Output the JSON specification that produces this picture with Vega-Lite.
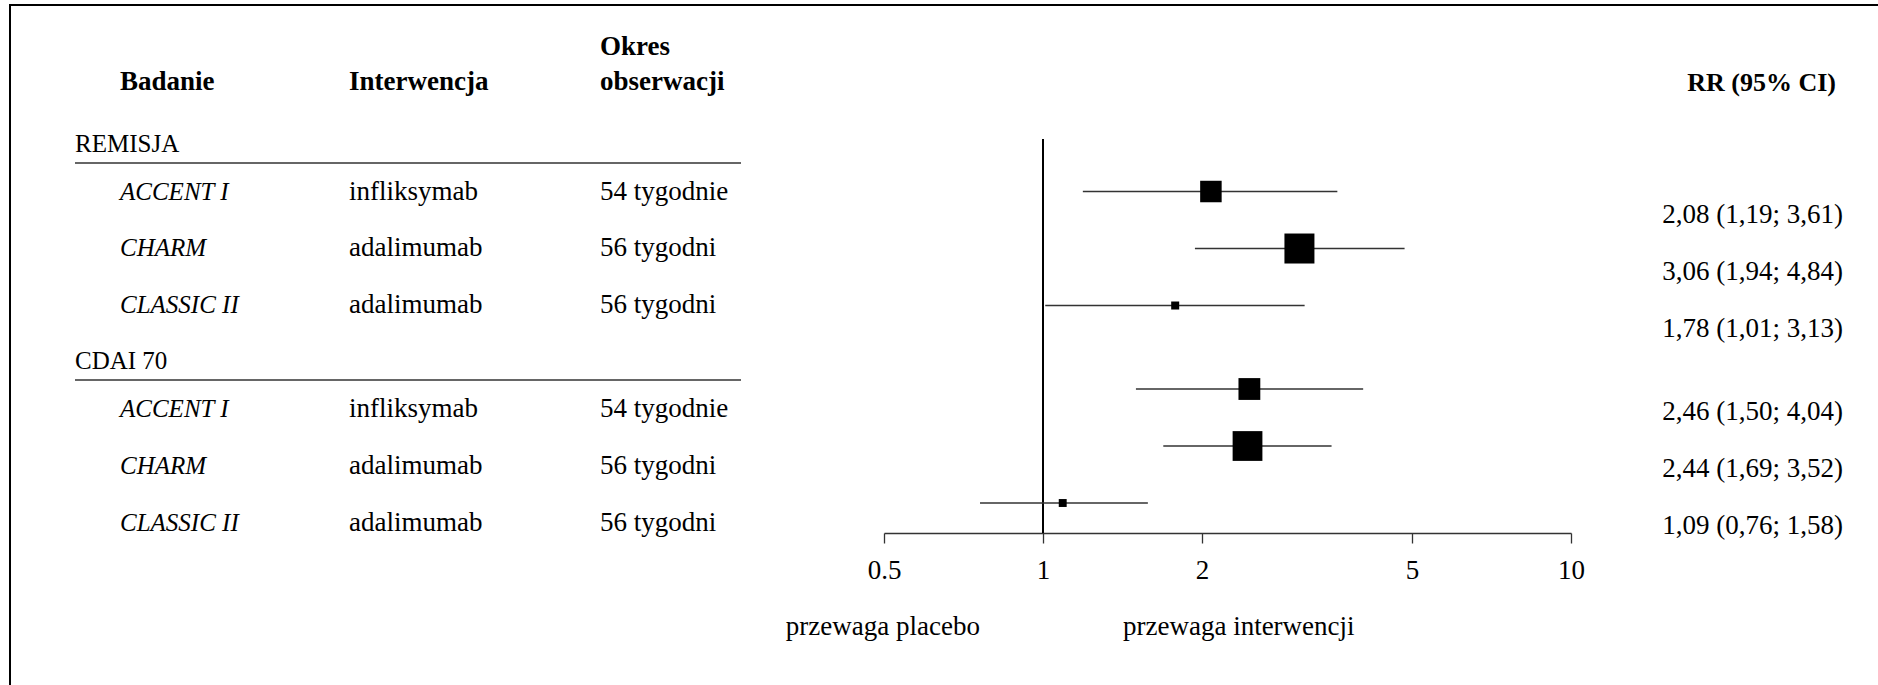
{
  "$schema": "https://vega.github.io/schema/vega-lite/v6.json",
  "padding": {"left": 9, "top": 4, "right": 0, "bottom": 0},
  "bounds": "flush",
  "spacing": 0,
  "config": {
    "view": {"stroke": null},
    "font": "Liberation Serif",
    "text": {"font": "Liberation Serif", "fontSize": 27, "color": "black"},
    "title": {"font": "Liberation Serif", "fontSize": 27, "fontWeight": "bold", "color": "black", "anchor": "start", "frame": "group", "baseline": "bottom", "offset": 43, "lineHeight": 35}
  },
  "datasets": {
    "badania": [
      {"grupa": "REMISJA", "badanie": "ACCENT I", "interwencja": "infliksymab", "okres": "54 tygodnie", "rr": 2.08, "lo": 1.19, "hi": 3.61, "waga": 32.4, "etykieta": "2,08 (1,19; 3,61)"},
      {"grupa": "REMISJA", "badanie": "CHARM", "interwencja": "adalimumab", "okres": "56 tygodni", "rr": 3.06, "lo": 1.94, "hi": 4.84, "waga": 63.1, "etykieta": "3,06 (1,94; 4,84)"},
      {"grupa": "REMISJA", "badanie": "CLASSIC II", "interwencja": "adalimumab", "okres": "56 tygodni", "rr": 1.78, "lo": 1.01, "hi": 3.13, "waga": 4.5, "etykieta": "1,78 (1,01; 3,13)"},
      {"grupa": "CDAI 70", "badanie": "ACCENT I", "interwencja": "infliksymab", "okres": "54 tygodnie", "rr": 2.46, "lo": 1.50, "hi": 4.04, "waga": 33.4, "etykieta": "2,46 (1,50; 4,04)"},
      {"grupa": "CDAI 70", "badanie": "CHARM", "interwencja": "adalimumab", "okres": "56 tygodni", "rr": 2.44, "lo": 1.69, "hi": 3.52, "waga": 62.2, "etykieta": "2,44 (1,69; 3,52)"},
      {"grupa": "CDAI 70", "badanie": "CLASSIC II", "interwencja": "adalimumab", "okres": "56 tygodni", "rr": 1.09, "lo": 0.76, "hi": 1.58, "waga": 4.4, "etykieta": "1,09 (0,76; 1,58)"}
    ]
  },
  "vconcat": [
    {"width": 1867, "height": 0.001, "data": {"values": []}, "mark": "point", "view": {"stroke": "black", "strokeWidth": 2}},
    {
      "hconcat": [
        {"width": 0.001, "height": 678, "data": {"values": []}, "mark": "point", "view": {"stroke": "black", "strokeWidth": 2}},
        {"width": 1867, "height": 1, "data": {"values": []}, "mark": "point"},
        {"width": 0.001, "height": 678, "data": {"values": []}, "mark": "point", "view": {"stroke": "#cccccc", "strokeWidth": 1}}
      ],
      "spacing": 0,
      "bounds": "flush"
    },
    {"width": 1, "height": 133, "data": {"values": []}, "mark": "point"},
    {
      "hconcat": [
        {"width": 65, "height": 1, "data": {"values": []}, "mark": "point"},
        {
          "width": 45, "height": 412,
          "data": {"name": "badania"},
          "transform": [{"aggregate": [{"op": "count", "as": "n"}], "groupby": ["grupa"]}],
          "layer": [
            {"mark": {"type": "rule", "color": "#333", "strokeWidth": 1.5},
             "encoding": {"y": {"field": "grupa", "type": "nominal", "bandPosition": 0, "axis": null,
               "scale": {"type": "band", "domain": ["REMISJA", "CDAI 70"], "paddingInner": 0.212, "paddingOuter": 0.0553, "align": 1}}}},
            {"mark": {"type": "text", "align": "left", "baseline": "bottom", "dy": -6, "fontSize": 25},
             "encoding": {"x": {"value": 0},
               "y": {"field": "grupa", "type": "nominal", "bandPosition": 0, "axis": null,
                 "scale": {"type": "band", "domain": ["REMISJA", "CDAI 70"], "paddingInner": 0.212, "paddingOuter": 0.0553, "align": 1}},
               "text": {"field": "grupa"}}}
          ]
        },
        {
          "width": 229, "height": 412,
          "title": {"text": "Badanie"},
          "data": {"name": "badania"},
          "layer": [
            {"transform": [{"aggregate": [{"op": "count", "as": "n"}], "groupby": ["grupa"]}],
             "mark": {"type": "rule", "color": "#333", "strokeWidth": 1.5},
             "encoding": {"y": {"field": "grupa", "type": "nominal", "bandPosition": 0, "axis": null,
               "scale": {"type": "band", "domain": ["REMISJA", "CDAI 70"], "paddingInner": 0.212, "paddingOuter": 0.0553, "align": 1}}}},
            {"mark": {"type": "text", "align": "left", "baseline": "middle", "fontStyle": "italic", "fontSize": 25},
             "encoding": {"x": {"value": 0},
               "y": {"field": "grupa", "type": "nominal", "axis": null,
                 "scale": {"type": "band", "domain": ["REMISJA", "CDAI 70"], "paddingInner": 0.212, "paddingOuter": 0.0553, "align": 1}},
               "yOffset": {"field": "badanie", "type": "nominal", "scale": {"type": "band", "domain": ["ACCENT I", "CHARM", "CLASSIC II"], "paddingInner": 0, "paddingOuter": 0}},
               "text": {"field": "badanie"}}}
          ]
        },
        {
          "width": 251, "height": 412,
          "title": {"text": "Interwencja"},
          "data": {"name": "badania"},
          "layer": [
            {"transform": [{"aggregate": [{"op": "count", "as": "n"}], "groupby": ["grupa"]}],
             "mark": {"type": "rule", "color": "#333", "strokeWidth": 1.5},
             "encoding": {"y": {"field": "grupa", "type": "nominal", "bandPosition": 0, "axis": null,
               "scale": {"type": "band", "domain": ["REMISJA", "CDAI 70"], "paddingInner": 0.212, "paddingOuter": 0.0553, "align": 1}}}},
            {"mark": {"type": "text", "align": "left", "baseline": "middle"},
             "encoding": {"x": {"value": 0},
               "y": {"field": "grupa", "type": "nominal", "axis": null,
                 "scale": {"type": "band", "domain": ["REMISJA", "CDAI 70"], "paddingInner": 0.212, "paddingOuter": 0.0553, "align": 1}},
               "yOffset": {"field": "badanie", "type": "nominal", "scale": {"type": "band", "domain": ["ACCENT I", "CHARM", "CLASSIC II"], "paddingInner": 0, "paddingOuter": 0}},
               "text": {"field": "interwencja"}}}
          ]
        },
        {
          "width": 141, "height": 412,
          "title": {"text": ["Okres", "obserwacji"]},
          "data": {"name": "badania"},
          "layer": [
            {"transform": [{"aggregate": [{"op": "count", "as": "n"}], "groupby": ["grupa"]}],
             "mark": {"type": "rule", "color": "#333", "strokeWidth": 1.5},
             "encoding": {"y": {"field": "grupa", "type": "nominal", "bandPosition": 0, "axis": null,
               "scale": {"type": "band", "domain": ["REMISJA", "CDAI 70"], "paddingInner": 0.212, "paddingOuter": 0.0553, "align": 1}}}},
            {"mark": {"type": "text", "align": "left", "baseline": "middle"},
             "encoding": {"x": {"value": 0},
               "y": {"field": "grupa", "type": "nominal", "axis": null,
                 "scale": {"type": "band", "domain": ["REMISJA", "CDAI 70"], "paddingInner": 0.212, "paddingOuter": 0.0553, "align": 1}},
               "yOffset": {"field": "badanie", "type": "nominal", "scale": {"type": "band", "domain": ["ACCENT I", "CHARM", "CLASSIC II"], "paddingInner": 0, "paddingOuter": 0}},
               "text": {"field": "okres"}}}
          ]
        },
        {"width": 143, "height": 1, "data": {"values": []}, "mark": "point"},
        {
          "vconcat": [
            {
              "width": 687, "height": 394,
              "data": {"name": "badania"},
              "layer": [
                {"mark": {"type": "rule", "color": "black", "strokeWidth": 1.3},
                 "encoding": {"x": {"datum": 1, "type": "quantitative", "scale": {"type": "log", "domain": [0.5, 10], "nice": false}}}},
                {"mark": {"type": "rule", "color": "#333", "strokeWidth": 1.3},
                 "encoding": {
                   "x": {"field": "lo", "type": "quantitative", "scale": {"type": "log", "domain": [0.5, 10], "nice": false},
                     "axis": {"values": [0.5, 1, 2, 5, 10], "format": "~g", "title": null, "grid": false, "tickSize": 10, "labelPadding": 14,
                       "labelFont": "Liberation Serif", "labelFontSize": 27, "labelColor": "black", "domainColor": "#333", "tickColor": "#333",
                       "domainWidth": 1.3, "tickWidth": 1.3, "labelFlush": false, "labelOverlap": false}},
                   "x2": {"field": "hi"},
                   "y": {"field": "grupa", "type": "nominal", "axis": null,
                     "scale": {"type": "band", "domain": ["REMISJA", "CDAI 70"], "paddingInner": 0.1266, "paddingOuter": 0.0608, "align": 1}},
                   "yOffset": {"field": "badanie", "type": "nominal", "scale": {"type": "band", "domain": ["ACCENT I", "CHARM", "CLASSIC II"], "paddingInner": 0, "paddingOuter": 0}}}},
                {"mark": {"type": "point", "shape": "square", "filled": true, "color": "black", "opacity": 1, "strokeWidth": 0},
                 "encoding": {
                   "x": {"field": "rr", "type": "quantitative", "scale": {"type": "log", "domain": [0.5, 10], "nice": false}},
                   "y": {"field": "grupa", "type": "nominal", "axis": null,
                     "scale": {"type": "band", "domain": ["REMISJA", "CDAI 70"], "paddingInner": 0.1266, "paddingOuter": 0.0608, "align": 1}},
                   "yOffset": {"field": "badanie", "type": "nominal", "scale": {"type": "band", "domain": ["ACCENT I", "CHARM", "CLASSIC II"], "paddingInner": 0, "paddingOuter": 0}},
                   "size": {"field": "waga", "type": "quantitative", "scale": {"domain": [0, 63.1], "range": [0, 900]}, "legend": null}}}
              ]
            },
            {
              "width": 687, "height": 150,
              "data": {"values": [{}]},
              "layer": [
                {"mark": {"type": "text", "align": "right", "baseline": "middle", "dx": -63, "dy": 19},
                 "encoding": {"x": {"datum": 1, "type": "quantitative", "scale": {"type": "log", "domain": [0.5, 10], "nice": false}, "axis": null},
                   "text": {"value": "przewaga placebo"}}},
                {"mark": {"type": "text", "align": "left", "baseline": "middle", "dx": 80, "dy": 19},
                 "encoding": {"x": {"datum": 1, "type": "quantitative", "scale": {"type": "log", "domain": [0.5, 10], "nice": false}, "axis": null},
                   "text": {"value": "przewaga interwencji"}}}
              ]
            }
          ],
          "spacing": 0,
          "bounds": "flush"
        },
        {"width": 687, "height": 1, "data": {"values": []}, "mark": "point"},
        {
          "width": 272, "height": 417,
          "title": {"text": "RR (95% CI)", "anchor": "end", "fontSize": 26, "dx": -7},
          "data": {"name": "badania"},
          "mark": {"type": "text", "align": "right", "baseline": "middle"},
          "encoding": {
            "x": {"value": "width"},
            "y": {"field": "grupa", "type": "nominal", "axis": null,
              "scale": {"type": "band", "domain": ["REMISJA", "CDAI 70"], "paddingInner": 0.1266, "paddingOuter": 0.119, "align": 1}},
            "yOffset": {"field": "badanie", "type": "nominal", "scale": {"type": "band", "domain": ["ACCENT I", "CHARM", "CLASSIC II"], "paddingInner": 0, "paddingOuter": 0}},
            "text": {"field": "etykieta"}
          }
        }
      ],
      "spacing": 0,
      "bounds": "flush"
    }
  ]
}
